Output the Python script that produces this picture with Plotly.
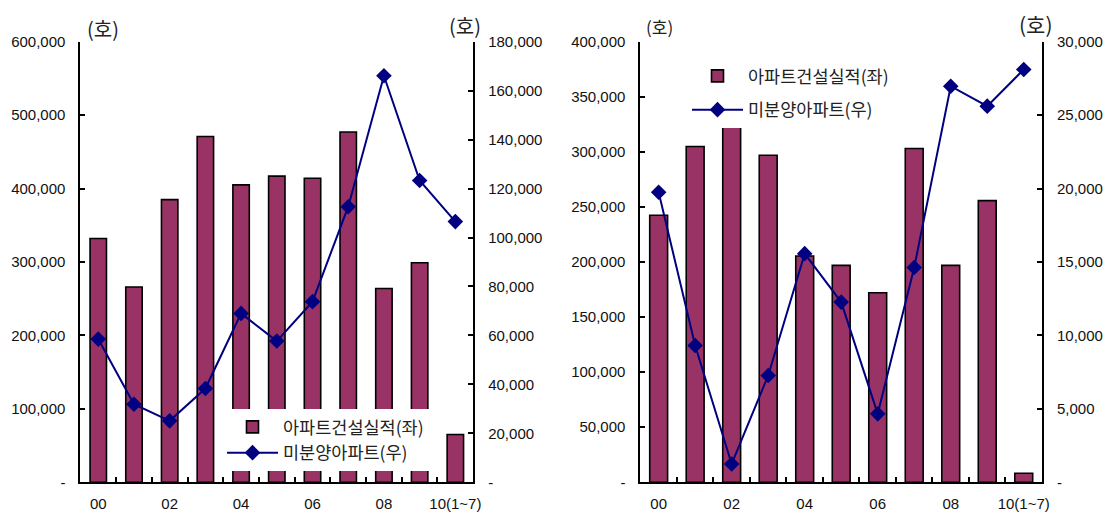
import plotly.graph_objects as go

# ---------------- data ----------------
categories = ["00", "01", "02", "03", "04", "05", "06", "07", "08", "09", "10(1~7)"]
label_idx = [0, 2, 4, 6, 8, 10]

bar_name = "아파트건설실적(좌)"
line_name = "미분양아파트(우)"
unit_text = "(호)"

# left chart (national)
left_construction = [332000, 266000, 385000, 471000, 405000, 417000, 414000, 477000, 264000, 299000, 65000]
left_unsold = [58500, 31900, 25100, 38300, 69000, 57700, 73800, 112600, 166100, 123300, 106500]
# right chart
right_construction = [242400, 304800, 324800, 296900, 205500, 196900, 172100, 303000, 196900, 255700, 8200]
right_unsold = [19750, 9310, 1250, 7270, 15570, 12270, 4660, 14630, 26970, 25610, 28110]

left_y1_ticks = [0, 100000, 200000, 300000, 400000, 500000, 600000]
left_y2_ticks = [0, 20000, 40000, 60000, 80000, 100000, 120000, 140000, 160000, 180000]
right_y1_ticks = [0, 50000, 100000, 150000, 200000, 250000, 300000, 350000, 400000]
right_y2_ticks = [0, 5000, 10000, 15000, 20000, 25000, 30000]

# ---------------- style ----------------
W, H = 1109, 514
BAR_COLOR = "#993366"
LINE_COLOR = "#000080"
NUM_FONT = "Liberation Sans, Arial, sans-serif"
KR_FONT = "Noto Sans CJK KR, sans-serif"
x_idx = list(range(len(categories)))


def fmt(v):
    return "-" if v == 0 else f"{v:,}"


def px_x(p):
    return p / W


def px_y(p):
    return 1 - p / H


y_dom = [px_y(482.3), px_y(41.7)]

fig = go.Figure()

# left chart
fig.add_trace(go.Bar(x=x_idx, y=left_construction, name=bar_name, xaxis="x", yaxis="y",
                     width=0.46, marker=dict(color=BAR_COLOR, line=dict(color="black", width=1.6)),
                     legend="legend", legendgroup="a"))
fig.add_trace(go.Scatter(x=x_idx, y=left_unsold, name=line_name, xaxis="x", yaxis="y2",
                         mode="lines+markers", line=dict(color=LINE_COLOR, width=2),
                         marker=dict(symbol="diamond", size=12, color=LINE_COLOR),
                         legend="legend", legendgroup="b"))
# right chart
fig.add_trace(go.Bar(x=x_idx, y=right_construction, name=bar_name, xaxis="x2", yaxis="y3",
                     width=0.49, marker=dict(color=BAR_COLOR, line=dict(color="black", width=1.6)),
                     legend="legend2", legendgroup="c"))
fig.add_trace(go.Scatter(x=x_idx, y=right_unsold, name=line_name, xaxis="x2", yaxis="y4",
                         mode="lines+markers", line=dict(color=LINE_COLOR, width=2),
                         marker=dict(symbol="diamond", size=12, color=LINE_COLOR),
                         legend="legend2", legendgroup="d"))


def xaxis_cfg(dom, anchor):
    return dict(domain=dom, anchor=anchor, range=[-0.5, len(categories) - 0.5],
                tickmode="array", tickvals=label_idx, ticktext=[categories[i] for i in label_idx],
                ticks="", showline=True, linecolor="black", linewidth=2, showgrid=False,
                zeroline=False, ticklabelstandoff=7, automargin=False,
                tickfont=dict(family=NUM_FONT, size=15, color="#111"),
                minor=dict(tickmode="array", tickvals=[i + 0.5 for i in x_idx[:-1]],
                           ticks="inside", ticklen=5, tickwidth=1.5, tickcolor="black", showgrid=False))


def yaxis_cfg(ticks, side, anchor, overlaying=None):
    d = dict(domain=y_dom, anchor=anchor, side=side, range=[0, ticks[-1]],
             tickmode="array", tickvals=ticks, ticktext=[fmt(v) for v in ticks],
             ticks="inside", ticklen=5, tickwidth=1.5, tickcolor="black",
             showline=True, linecolor="black", linewidth=2, showgrid=False, zeroline=False,
             ticklabelstandoff=10, automargin=False,
             tickfont=dict(family=NUM_FONT, size=15, color="#111"))
    if overlaying:
        d["overlaying"] = overlaying
    return d


legend_common = dict(bgcolor="white", borderwidth=0, itemwidth=51,
                     font=dict(family=KR_FONT, size=17.5, color="#222"),
                     xanchor="left", yanchor="top", traceorder="grouped")


def unit(x, y, size):
    return dict(text=unit_text, x=px_x(x), y=px_y(y), xref="paper", yref="paper",
                xanchor="center", yanchor="middle", showarrow=False,
                font=dict(family=KR_FONT, size=size, color="#222"))


fig.update_layout(
    width=W, height=H, autosize=False,
    margin=dict(l=0, r=0, t=0, b=0, pad=0, autoexpand=False),
    paper_bgcolor="white", plot_bgcolor="white",
    barmode="overlay", showlegend=True,
    xaxis=xaxis_cfg([px_x(80.4), px_x(473.2)], "y"),
    yaxis=yaxis_cfg(left_y1_ticks, "left", "x"),
    yaxis2=yaxis_cfg(left_y2_ticks, "right", "x", "y"),
    xaxis2=xaxis_cfg([px_x(640.4), px_x(1042)], "y3"),
    yaxis3=yaxis_cfg(right_y1_ticks, "left", "x2"),
    yaxis4=yaxis_cfg(right_y2_ticks, "right", "x2", "y3"),
    legend=dict(x=px_x(222), y=px_y(409), tracegroupgap=0, **legend_common),
    legend2=dict(x=px_x(687), y=px_y(58), tracegroupgap=8, **legend_common),
    annotations=[
        unit(103, 28, 20),
        unit(465, 25, 20),
        unit(659, 26, 17),
        unit(1036, 24, 21),
    ],
)

fig.write_html("out.html")
